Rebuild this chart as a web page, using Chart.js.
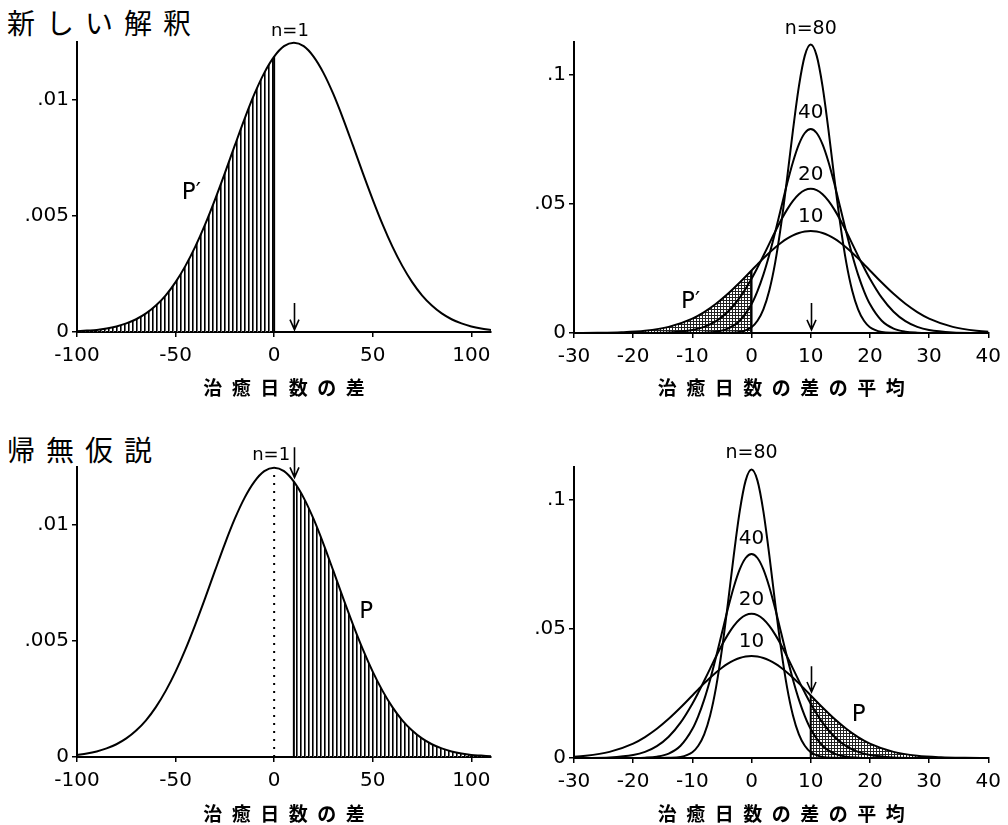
<!DOCTYPE html>
<html lang="ja">
<head>
<meta charset="utf-8">
<title>治癒日数の差</title>
<script src="https://cdn.jsdelivr.net/npm/chart.js@4/dist/chart.umd.min.js"></script>
<style>
  body { margin: 0; background: #fff; width: 1008px; height: 825px; position: relative; overflow: hidden; }
  canvas { position: absolute; }
  .head { position: absolute; font-family: "Noto Sans CJK JP"; font-size: 28px; letter-spacing: 11px; line-height: 1; color: #000; }
</style>
</head>
<body>
<div class="head" style="left:7px; top:8px;">新しい解釈</div>
<div class="head" style="left:7px; top:435px;">帰無仮説</div>
<canvas id="tl" width="504" height="400" style="left:0; top:0;"></canvas>
<canvas id="tr" width="504" height="400" style="left:504px; top:0;"></canvas>
<canvas id="bl" width="504" height="413" style="left:0; top:412px;"></canvas>
<canvas id="br" width="504" height="413" style="left:504px; top:412px;"></canvas>
<script>
// 左: 1例ごとの治癒日数の差 (n=1)
const diffX = [-100, -95, -90, -85, -80, -75, -70, -65, -60, -55, -50, -45, -40, -35, -30, -25, -20, -15, -10, -5,
  0, 5, 10, 15, 20, 25, 30, 35, 40, 45, 50, 55, 60, 65, 70, 75, 80, 85, 90, 95, 100, 105, 110];
const densNew = [0.00003, 0.00006, 0.00009, 0.00015, 0.00024, 0.00037, 0.00055, 0.00080, 0.00114, 0.00158,
  0.00215, 0.00285, 0.00368, 0.00464, 0.00571, 0.00685, 0.00803, 0.00919, 0.01026, 0.01117,
  0.01187, 0.01232, 0.01247, 0.01232, 0.01187, 0.01117, 0.01026, 0.00919, 0.00803, 0.00685,
  0.00571, 0.00464, 0.00368, 0.00285, 0.00215, 0.00158, 0.00114, 0.00080, 0.00055, 0.00037,
  0.00024, 0.00015, 0.00009];
const densNull = [0.00009, 0.00015, 0.00024, 0.00037, 0.00055, 0.00080, 0.00114, 0.00158, 0.00215, 0.00285,
  0.00368, 0.00464, 0.00571, 0.00685, 0.00803, 0.00919, 0.01026, 0.01117, 0.01187, 0.01232,
  0.01247, 0.01232, 0.01187, 0.01117, 0.01026, 0.00919, 0.00803, 0.00685, 0.00571, 0.00464,
  0.00368, 0.00285, 0.00215, 0.00158, 0.00114, 0.00080, 0.00055, 0.00037, 0.00024, 0.00015,
  0.00009, 0.00006, 0.00003];

// 右: 平均の分布 (平均からのずれ)
const meanNew = 10;
const meanNull = 0;
const offsets = [-40, -36, -32, -28, -24, -20, -18, -16, -14, -12, -10, -9, -8, -7, -6, -5, -4, -3, -2, -1,
  0, 1, 2, 3, 4, 5, 6, 7, 8, 9, 10, 12, 14, 16, 18, 20, 24, 28, 32, 36, 40];
const dens10 = [0.00002, 0.00007, 0.00027, 0.00086, 0.00237, 0.00559, 0.00810, 0.01129, 0.01514, 0.01951,
  0.02419, 0.02654, 0.02884, 0.03103, 0.03307, 0.03489, 0.03646, 0.03772, 0.03866, 0.03923,
  0.03942, 0.03923, 0.03866, 0.03772, 0.03646, 0.03489, 0.03307, 0.03103, 0.02884, 0.02654,
  0.02419, 0.01951, 0.01514, 0.01129, 0.00810, 0.00559, 0.00237, 0.00086, 0.00027, 0.00007, 0.00002];
const dens20 = [0, 0, 0, 0.00003, 0.00020, 0.00112, 0.00236, 0.00458, 0.00822, 0.01366,
  0.02100, 0.02528, 0.02984, 0.03455, 0.03923, 0.04367, 0.04769, 0.05106, 0.05361, 0.05521,
  0.05575, 0.05521, 0.05361, 0.05106, 0.04769, 0.04367, 0.03923, 0.03455, 0.02984, 0.02528,
  0.02100, 0.01366, 0.00822, 0.00458, 0.00236, 0.00112, 0.00020, 0.00003, 0, 0, 0];
const dens40 = [0, 0, 0, 0, 0, 0.00003, 0.00014, 0.00053, 0.00171, 0.00473,
  0.01118, 0.01621, 0.02259, 0.03028, 0.03903, 0.04839, 0.05768, 0.06613, 0.07292, 0.07732,
  0.07884, 0.07732, 0.07292, 0.06613, 0.05768, 0.04839, 0.03903, 0.03028, 0.02259, 0.01621,
  0.01118, 0.00473, 0.00171, 0.00053, 0.00014, 0.00003, 0, 0, 0, 0, 0];
const dens80 = [0, 0, 0, 0, 0, 0, 0, 0, 0.00005, 0.00040,
  0.00224, 0.00471, 0.00915, 0.01645, 0.02732, 0.04199, 0.05968, 0.07845, 0.09537, 0.10723,
  0.1115, 0.10723, 0.09537, 0.07845, 0.05968, 0.04199, 0.02732, 0.01645, 0.00915, 0.00471,
  0.00224, 0.00040, 0.00005, 0, 0, 0, 0, 0, 0, 0, 0];

const leftTicksX = [-100, -50, 0, 50, 100];
const rightTicksX = [-30, -20, -10, 0, 10, 20, 30, 40];
const leftTicksY = [0, 0.005, 0.01];
const rightTicksY = [0, 0.05, 0.1];
const cutNew = 0;    // 新しい解釈の P′ の境界
const cutNull = 10;  // 帰無仮説の P の境界

const TICK_FONT = { family: '"DejaVu Sans"', size: 20 };
const TITLE_FONT = { family: '"Noto Sans CJK JP"', size: 19, weight: 'bold' };

function pts(xs, ys) { return xs.map((x, i) => ({ x: x, y: ys[i] })); }
function shifted(mean, ys) { return offsets.map((d, i) => ({ x: mean + d, y: ys[i] })); }

function stripes() {
  const c = document.createElement('canvas');
  c.width = 4; c.height = 4;
  const g = c.getContext('2d');
  g.fillStyle = '#000'; g.fillRect(0, 0, 1, 4);
  g.fillStyle = '#666'; g.fillRect(1, 0, 1, 4);
  return g.createPattern(c, 'repeat');
}
function mesh() {
  const c = document.createElement('canvas');
  c.width = 3; c.height = 3;
  const g = c.getContext('2d');
  g.fillStyle = '#222';
  g.fillRect(0, 0, 3, 1);
  g.fillRect(0, 0, 1, 3);
  return g.createPattern(c, 'repeat');
}

function curve(data) {
  return { data: data, borderColor: '#000', borderWidth: 2, pointRadius: 0, fill: false,
    cubicInterpolationMode: 'monotone', clip: { left: 0, right: 0, top: 10, bottom: 3 } };
}
function shade(data, pattern) {
  return { data: data, borderWidth: 0, borderColor: 'rgba(0,0,0,0)', pointRadius: 0, fill: 'origin',
    backgroundColor: pattern, cubicInterpolationMode: 'monotone', order: 10 };
}
function edge(x, y, dash) {
  return { data: [{ x: x, y: 0 }, { x: x, y: y }], borderColor: '#000', borderWidth: 2,
    borderDash: dash || [], pointRadius: 0, tension: 0, fill: false };
}

// 文字と矢印 (データ座標で置く)
function notes(labels, arrows) {
  return {
    id: 'notes',
    afterDatasetsDraw(chart) {
      const ctx = chart.ctx, xs = chart.scales.x, ys = chart.scales.y;
      ctx.save();
      ctx.fillStyle = '#000';
      ctx.strokeStyle = '#000';
      ctx.textAlign = 'center';
      ctx.textBaseline = 'middle';
      labels.forEach(l => {
        ctx.font = l.size + 'px "DejaVu Sans"';
        ctx.fillText(l.text, xs.getPixelForValue(l.x), ys.getPixelForValue(l.y));
      });
      arrows.forEach(a => {
        const px = Math.round(xs.getPixelForValue(a.x)) + 0.5;
        const top = ys.getPixelForValue(a.from), tip = ys.getPixelForValue(a.to);
        ctx.lineWidth = 1.6;
        ctx.beginPath();
        ctx.moveTo(px, top); ctx.lineTo(px, tip);
        ctx.moveTo(px - 4.5, tip - 10); ctx.lineTo(px, tip); ctx.lineTo(px + 4.5, tip - 10);
        ctx.stroke();
      });
      ctx.restore();
    }
  };
}

function fmt(v) { return v === 0 ? '0' : String(v).replace(/^0\./, '.'); }

function makeChart(id, o) {
  return new Chart(document.getElementById(id), {
    type: 'line',
    data: { datasets: o.datasets },
    plugins: [notes(o.labels, o.arrows)],
    options: {
      responsive: false,
      animation: false,
      devicePixelRatio: 1,
      layout: { padding: { top: o.padTop, right: o.padRight, left: 0, bottom: 0 } },
      plugins: { legend: { display: false }, tooltip: { enabled: false } },
      scales: {
        x: {
          type: 'linear', min: o.xMin, max: o.xMax,
          afterBuildTicks: s => { s.ticks = o.xTicks.map(v => ({ value: v })); },
          afterFit: s => { s.height = o.xHeight; },
          border: { display: true, color: '#000', width: 2 },
          grid: { display: true, drawOnChartArea: false, drawTicks: true, tickLength: 5, color: '#000', lineWidth: 1.5 },
          ticks: { color: '#000', font: TICK_FONT, padding: 7, maxRotation: 0, autoSkip: false },
          title: { display: true, text: o.xTitle, color: '#000', font: TITLE_FONT, padding: { top: 0, bottom: o.titlePad } }
        },
        y: {
          type: 'linear', min: 0, max: o.yMax,
          afterBuildTicks: s => { s.ticks = o.yTicks.map(v => ({ value: v })); },
          afterFit: s => { s.width = o.yWidth; },
          border: { display: true, color: '#000', width: 2 },
          grid: { display: true, drawOnChartArea: false, drawTicks: true, tickLength: 5, color: '#000', lineWidth: 1.5 },
          ticks: { color: '#000', font: TICK_FONT, padding: 3, callback: v => fmt(v) }
        }
      }
    }
  });
}

const newPts = pts(diffX, densNew);
const nullPts = pts(diffX, densNull);
const new10 = shifted(meanNew, dens10);
const null10 = shifted(meanNull, dens10);
const edgeTop = dens10[offsets.indexOf(cutNew - meanNew)];
const edgeBottom = dens10[offsets.indexOf(cutNull - meanNull)];
const titleLeft = '治\u2002癒\u2002日\u2002数\u2002の\u2002差';
const titleRight = '治\u2002癒\u2002日\u2002数\u2002の\u2002差\u2002の\u2002平\u2002均';

makeChart('tl', {
  datasets: [
    curve(newPts),
    edge(cutNew, densNew[diffX.indexOf(cutNew)]),
    shade(newPts.filter(p => p.x <= cutNew), stripes())
  ],
  labels: [{ text: 'n=1', x: 8, y: 0.01295, size: 18 }, { text: 'P′', x: -42, y: 0.0060, size: 23 }],
  arrows: [{ x: meanNew, from: 0.00125, to: 0.0001 }],
  xMin: -100, xMax: 110, xTicks: leftTicksX, yMax: 0.0125, yTicks: leftTicksY,
  padTop: 42, padRight: 13, yWidth: 77, xHeight: 68, titlePad: 1,
  xTitle: titleLeft
});

makeChart('tr', {
  datasets: [
    curve(shifted(meanNew, dens80)),
    curve(shifted(meanNew, dens40)),
    curve(shifted(meanNew, dens20)),
    curve(new10),
    edge(cutNew, edgeTop),
    shade(new10.filter(p => p.x <= cutNew), mesh())
  ],
  labels: [
    { text: 'n=80', x: 10, y: 0.1174, size: 19 },
    { text: '40', x: 10, y: 0.0853, size: 20 },
    { text: '20', x: 10, y: 0.0612, size: 20 },
    { text: '10', x: 10, y: 0.0450, size: 20 },
    { text: 'P′', x: -10.3, y: 0.0120, size: 23 }
  ],
  arrows: [{ x: meanNew, from: 0.0116, to: 0.0012 }],
  xMin: -30, xMax: 40, xTicks: rightTicksX, yMax: 0.1125, yTicks: rightTicksY,
  padTop: 42, padRight: 18, yWidth: 70, xHeight: 67, titlePad: 1,
  xTitle: titleRight
});

makeChart('bl', {
  datasets: [
    curve(nullPts),
    edge(cutNull, densNull[diffX.indexOf(cutNull)]),
    edge(meanNull, 0.01216, [2, 6]),
    shade(nullPts.filter(p => p.x >= cutNull), stripes())
  ],
  labels: [{ text: 'n=1', x: -1.5, y: 0.01302, size: 18 }, { text: 'P', x: 46.7, y: 0.00625, size: 23 }],
  arrows: [{ x: cutNull, from: 0.01335, to: 0.01205 }],
  xMin: -100, xMax: 110, xTicks: leftTicksX, yMax: 0.0125, yTicks: leftTicksY,
  padTop: 55, padRight: 13, yWidth: 77, xHeight: 68, titlePad: 0,
  xTitle: titleLeft
});

makeChart('br', {
  datasets: [
    curve(shifted(meanNull, dens80)),
    curve(shifted(meanNull, dens40)),
    curve(shifted(meanNull, dens20)),
    curve(null10),
    edge(cutNull, edgeBottom),
    shade(null10.filter(p => p.x >= cutNull), mesh())
  ],
  labels: [
    { text: 'n=80', x: 0, y: 0.1178, size: 19 },
    { text: '40', x: 0, y: 0.0849, size: 20 },
    { text: '20', x: 0, y: 0.0610, size: 20 },
    { text: '10', x: 0, y: 0.0448, size: 20 },
    { text: 'P', x: 18.1, y: 0.0166, size: 23 }
  ],
  arrows: [{ x: cutNull, from: 0.0355, to: 0.0255 }],
  xMin: -30, xMax: 40, xTicks: rightTicksX, yMax: 0.1125, yTicks: rightTicksY,
  padTop: 55, padRight: 18, yWidth: 70, xHeight: 67, titlePad: 0,
  xTitle: titleRight
});
</script>
</body>
</html>
